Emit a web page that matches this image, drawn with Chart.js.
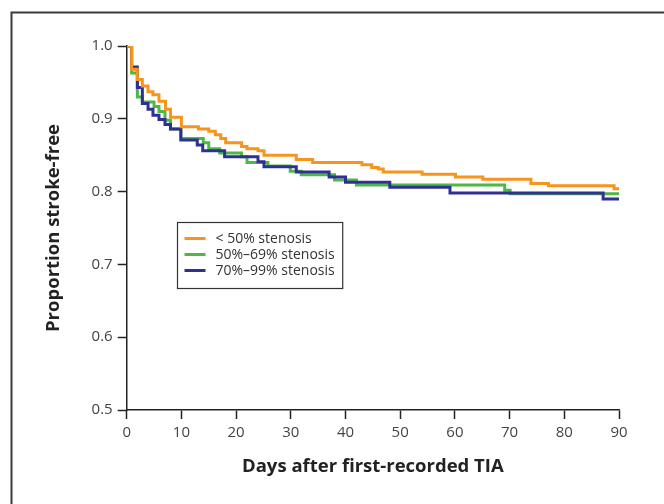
<!DOCTYPE html>
<html>
<head>
<meta charset="utf-8">
<script src="https://cdn.jsdelivr.net/npm/chart.js@4"></script>
<style>
  html, body { margin: 0; padding: 0; background: #ffffff; }
  #wrap { position: relative; width: 664px; height: 504px; }
</style>
</head>
<body>
<div id="wrap"><canvas id="c" width="664" height="504"></canvas></div>
<script>
// ---- data ----
const seriesLabels = ['< 50% stenosis', '50%\u201369% stenosis', '70%\u201399% stenosis'];

const lt50Days = [0, 0.9, 1.95, 2.86, 3.9, 4.8, 5.9, 7.1, 8.0, 10.0, 13.1, 15.0, 16.2, 17.2, 18.1, 21.0, 22.0, 24.0, 25.1, 31.0, 34.0, 43.0, 44.8, 46.0, 46.9, 54.0, 60.1, 65.1, 73.9, 77.1, 89.1, 90];
const lt50Surv = [1.000, 0.968, 0.954, 0.945, 0.937, 0.933, 0.924, 0.913, 0.902, 0.889, 0.886, 0.883, 0.878, 0.873, 0.867, 0.862, 0.859, 0.856, 0.850, 0.844, 0.840, 0.837, 0.833, 0.831, 0.827, 0.824, 0.820, 0.817, 0.811, 0.808, 0.804, 0.804];

const mid5069Days = [0, 0.9, 1.95, 2.86, 5.0, 5.9, 7.0, 8.0, 9.9, 14.0, 15.0, 17.0, 21.0, 22.0, 25.8, 29.9, 31.9, 38.0, 42.0, 69.1, 70.1, 90];
const mid5069Surv = [1.000, 0.963, 0.930, 0.923, 0.917, 0.910, 0.898, 0.886, 0.873, 0.867, 0.859, 0.853, 0.848, 0.840, 0.835, 0.828, 0.823, 0.816, 0.809, 0.802, 0.797, 0.797];

const high7099Days = [0, 0.9, 1.95, 2.86, 3.9, 4.8, 5.9, 7.0, 8.0, 9.9, 12.9, 13.9, 17.9, 24.0, 25.1, 31.0, 37.0, 40.0, 48.1, 59.1, 87.1, 90];
const high7099Surv = [1.000, 0.971, 0.943, 0.921, 0.913, 0.905, 0.899, 0.892, 0.886, 0.871, 0.864, 0.856, 0.848, 0.841, 0.834, 0.827, 0.820, 0.813, 0.806, 0.798, 0.790, 0.790];

const xTickValues = [0, 10, 20, 30, 40, 50, 60, 70, 80, 90];
const yTickValues = [0.5, 0.6, 0.7, 0.8, 0.9, 1.0];
const xTitle = 'Days after first-recorded TIA';
const yTitle = 'Proportion stroke-free';

// ---- styling ----
const colors = ['#F7941D', '#4DB848', '#2E3192'];
const FONT = "'Open Sans', 'DejaVu Sans', sans-serif";
const axisColor = '#222222';
const tickTextColor = '#444444';

function toPoints(xs, ys) { return xs.map((x, i) => ({ x: x, y: ys[i] })); }

const datasets = [
  { label: seriesLabels[0], data: toPoints(lt50Days, lt50Surv), borderColor: colors[0], order: 0 },
  { label: seriesLabels[1], data: toPoints(mid5069Days, mid5069Surv), borderColor: colors[1], order: 2 },
  { label: seriesLabels[2], data: toPoints(high7099Days, high7099Surv), borderColor: colors[2], order: 1 }
].map(d => Object.assign(d, {
  borderWidth: 3,
  pointRadius: 0,
  pointHoverRadius: 0,
  stepped: true,
  tension: 0,
  fill: false,
  borderCapStyle: 'butt',
  borderJoinStyle: 'miter'
}));

const framePlugin = {
  id: 'frame',
  afterDraw(chart) {
    const ctx = chart.ctx;
    ctx.save();
    ctx.strokeStyle = '#3a3a3a';
    ctx.lineWidth = 2;
    ctx.beginPath();
    ctx.moveTo(11.5, 504);
    ctx.lineTo(11.5, 12.5);
    ctx.lineTo(664, 12.5);
    ctx.stroke();
    ctx.restore();
  }
};

const boxLegendPlugin = {
  id: 'boxLegend',
  afterDatasetsDraw(chart) {
    const ctx = chart.ctx;
    const xs = chart.scales.x, ys = chart.scales.y;
    // anchor the box in data space
    const left = Math.round(xs.getPixelForValue(9.25)) + 0.5;
    const top = Math.round(ys.getPixelForValue(0.758)) + 0.5;
    const rowH = 16;
    ctx.save();
    ctx.font = '14px ' + FONT;
    let maxW = 0;
    chart.data.datasets.forEach(d => { maxW = Math.max(maxW, ctx.measureText(d.label).width); });
    const boxW = 38 + maxW + 8;
    const boxH = 66;
    ctx.fillStyle = '#ffffff';
    ctx.fillRect(left, top, boxW, boxH);
    ctx.strokeStyle = '#333333';
    ctx.lineWidth = 1.2;
    ctx.strokeRect(left, top, boxW, boxH);
    chart.data.datasets.forEach((d, i) => {
      const cy = top + 16 + i * rowH;
      ctx.strokeStyle = d.borderColor;
      ctx.lineWidth = 3;
      ctx.beginPath();
      ctx.moveTo(left + 7, cy);
      ctx.lineTo(left + 28, cy);
      ctx.stroke();
      ctx.fillStyle = '#333333';
      ctx.textBaseline = 'middle';
      ctx.textAlign = 'left';
      ctx.fillText(d.label, left + 38, cy + 1);
    });
    ctx.restore();
  }
};

new Chart(document.getElementById('c'), {
  type: 'line',
  data: { datasets: datasets },
  plugins: [framePlugin, boxLegendPlugin],
  options: {
    responsive: false,
    animation: false,
    events: [],
    layout: { padding: { left: 0, top: 46, right: 45, bottom: 0 } },
    plugins: { legend: { display: false }, tooltip: { enabled: false }, title: { display: false } },
    scales: {
      x: {
        type: 'linear',
        min: 0,
        max: 90,
        afterBuildTicks(scale) { scale.ticks = xTickValues.map(v => ({ value: v })); },
        afterFit(scale) { scale.height = 94; },
        ticks: {
          color: tickTextColor,
          font: { family: FONT, size: 15 },
          padding: 5,
          maxRotation: 0,
          callback: v => String(v)
        },
        grid: { display: true, drawOnChartArea: false, drawTicks: true, tickLength: 9, tickColor: axisColor, tickWidth: 1.5 },
        border: { display: true, color: axisColor, width: 1.5 },
        title: {
          display: true,
          text: xTitle,
          color: '#222222',
          font: { family: FONT, size: 18.5, weight: 'bold' },
          padding: { top: 0, bottom: 26 }
        }
      },
      y: {
        type: 'linear',
        min: 0.5,
        max: 1.0,
        afterBuildTicks(scale) { scale.ticks = yTickValues.map(v => ({ value: v })); },
        afterFit(scale) { scale.width = 126.7; },
        ticks: {
          color: tickTextColor,
          font: { family: FONT, size: 15 },
          padding: 5,
          callback: v => Number(v).toFixed(1)
        },
        grid: { display: true, drawOnChartArea: false, drawTicks: true, tickLength: 9, tickColor: axisColor, tickWidth: 1.5 },
        border: { display: true, color: axisColor, width: 1.5 },
        title: {
          display: true,
          text: yTitle,
          color: '#222222',
          font: { family: FONT, size: 18.5, weight: 'bold' },
          padding: { top: 43, bottom: 0 }
        }
      }
    }
  }
});
</script>
</body>
</html>
